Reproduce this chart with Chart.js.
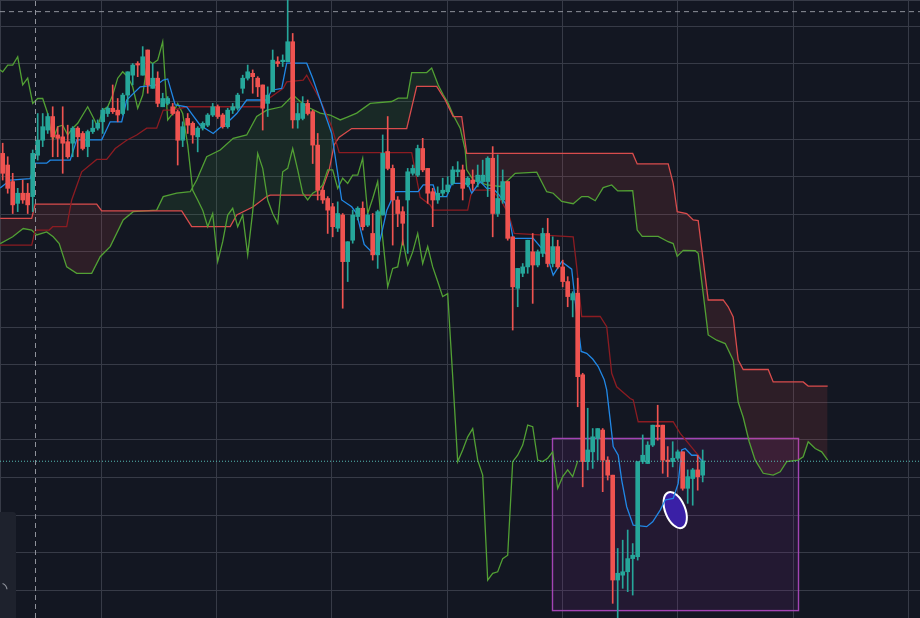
<!DOCTYPE html>
<html>
<head>
<meta charset="utf-8">
<script src="https://cdn.jsdelivr.net/npm/chart.js@4.4.1/dist/chart.umd.min.js"></script>
<style>
  html, body { margin: 0; padding: 0; background: #131722; overflow: hidden; }
  #wrap { width: 920px; height: 618px; }
</style>
</head>
<body>
<div id="wrap"><canvas id="ichimokuChart" width="920" height="618"></canvas></div>
<script>
// candles, one per index 0..140
const open = [2162,2131,2087,2029,2056,2056,2047,2157,2197,2224,2260,2211,2206,2193,2189,2229,2215,2180,2220,2229,
  2246,2268,2282,2277,2268,2317,2370,2401,2370,2437,2335,2362,2286,2295,2286,2273,2197,2255,2242,2206,
  2229,2237,2264,2286,2264,2233,2277,2282,2335,2362,2375,2362,2344,2295,2326,2406,2406,2406,2459,2251,
  2255,2295,2273,2184,2064,2042,2020,1963,1998,1874,1931,1994,2016,1971,1949,1892,1998,2167,2122,2038,
  2007,2038,2109,2104,2175,2122,2060,2038,2056,2060,2082,2113,2118,2078,2091,2087,2087,2087,2149,2002,
  2038,2087,1940,1803,1843,1860,1900,1865,1896,1949,1869,1914,1860,1821,1772,1790,1573,1342,1368,1404,
  1426,1346,1306,1027,1040,1049,1084,1089,1342,1337,1386,1439,1439,1346,1342,1351,1368,1271,1297,1320,1306];
const high = [2189,2153,2109,2069,2091,2082,2171,2268,2268,2268,2286,2233,2286,2237,2233,2233,2220,2224,2251,2251,
  2282,2286,2344,2308,2322,2379,2401,2406,2446,2437,2401,2379,2322,2313,2295,2277,2246,2268,2246,2233,
  2246,2268,2295,2291,2268,2282,2295,2322,2370,2397,2384,2366,2344,2339,2437,2419,2424,2580,2481,2295,
  2313,2304,2277,2215,2073,2047,2029,2033,2002,1927,2011,2020,2033,2002,2002,2011,2211,2260,2131,2047,
  2020,2122,2131,2184,2202,2122,2069,2073,2096,2100,2127,2140,2131,2100,2118,2131,2144,2153,2180,2158,
  2118,2087,1940,1856,1869,1931,1949,1905,1963,1989,1940,1931,1878,1834,1794,1830,1577,1484,1430,1430,
  1430,1355,1306,1111,1133,1160,1124,1342,1413,1395,1439,1492,1439,1382,1395,1373,1368,1320,1324,1359,1373];
const low = [2091,2056,2002,2007,2029,2002,2007,2144,2180,2215,2153,2153,2109,2149,2153,2153,2171,2153,2215,2224,
  2215,2260,2268,2246,2264,2277,2344,2366,2370,2322,2335,2286,2286,2291,2264,2131,2180,2215,2189,2166,
  2224,2233,2260,2255,2229,2229,2268,2277,2322,2357,2322,2313,2224,2260,2326,2393,2393,2406,2229,2229,
  2251,2264,2135,2038,2029,1949,1940,1954,1750,1821,1923,1985,1958,1967,1878,1856,1998,2118,1918,1967,
  1918,1896,2104,2100,2113,2029,1967,2029,2047,2056,2078,2100,2038,2073,2064,2073,2082,2047,1940,1994,
  2029,1931,1692,1754,1834,1843,1763,1860,1887,1860,1860,1856,1807,1754,1727,1488,1275,1320,1324,1346,
  1262,1293,965,920,1005,996,987,1080,1337,1337,1382,1399,1311,1302,1328,1346,1266,1231,1226,1266,1288];
const close = [2109,2069,2025,2056,2038,2025,2162,2197,2233,2260,2206,2202,2189,2153,2229,2206,2175,2220,2229,2242,
  2277,2282,2273,2264,2317,2379,2397,2397,2419,2344,2362,2295,2308,2308,2268,2197,2233,2237,2211,2229,
  2242,2264,2286,2260,2233,2277,2286,2317,2362,2379,2366,2339,2282,2317,2410,2401,2410,2459,2251,2268,
  2295,2268,2184,2064,2038,2011,1967,2002,1874,1927,1998,2016,1967,1998,1892,2007,2162,2122,2038,2002,
  1976,2113,2122,2175,2118,2056,2038,2056,2064,2078,2118,2118,2069,2096,2082,2104,2104,2149,2002,2042,
  2087,1936,1807,1856,1860,1931,1865,1900,1949,1869,1914,1860,1821,1781,1789,1568,1342,1373,1408,1430,
  1346,1306,1027,1045,1049,1084,1093,1342,1359,1386,1439,1435,1346,1342,1351,1368,1271,1302,1320,1302,1344];

// lagging span, starting at index -1
const chikouStart = -1;
const chikou = [2388,2379,2397,2397,2419,2344,2362,2295,2308,2308,2268,2197,2233,2237,2211,2229,2242,2264,2286,2260,2233,
  2277,2286,2317,2362,2379,2366,2339,2282,2317,2410,2401,2410,2459,2251,2268,2295,2268,2184,2064,2038,
  2011,1967,2002,1874,1927,1998,2016,1967,1998,1892,2007,2162,2122,2038,2002,1976,2113,2122,2175,2118,
  2056,2038,2056,2064,2078,2118,2118,2069,2096,2082,2104,2104,2149,2002,2042,2087,1936,1807,1856,1860,
  1931,1865,1900,1949,1869,1914,1860,1821,1781,1789,1568,1342,1373,1408,1430,1346,1306,1027,1045,1049,
  1084,1093,1342,1359,1386,1439,1435,1346,1342,1351,1368,1271,1302,1320,1302,1344];

// conversion line [index, price]
const tenkan = [[-0.5,2070],[1.5,2091],[5.5,2095],[6.5,2136],[8.8,2136],[9.5,2144],[13.5,2144],[14.8,2198],[19.8,2198],
  [21.5,2246],[23.8,2246],[24.8,2304],[27.5,2339],[30.8,2344],[32.1,2357],[33,2360],[34.5,2291],[36.8,2286],[38,2264],
  [39.5,2237],[42.1,2215],[43.3,2229],[44.8,2242],[46.8,2268],[48.8,2304],[52.8,2304],[53.8,2330],[55.8,2335],
  [56.8,2402],[60.8,2402],[62,2362],[63.5,2304],[65.8,2215],[67.8,2038],[69.8,2020],[70.8,2002],[72.3,1920],
  [73.8,1900],[74.8,1896],[75.8,1950],[76.8,2010],[78.5,2060],[83.1,2060],[84.1,2078],[86.1,2078],[86.8,2047],
  [88.8,2047],[89.8,2082],[93,2082],[93.8,2056],[95.5,2087],[96.8,2069],[98,2069],[99,2056],[100.5,2030],
  [101.5,1976],[102.1,1936],[106.1,1936],[107.5,1914],[108.8,1892],[110.1,1838],[111.8,1874],[113.8,1854],
  [114.7,1746],[115.7,1635],[116.8,1630],[118,1615],[119.1,1595],[120.3,1560],[120.8,1533],[121.5,1453],
  [122.1,1382],[123.1,1359],[123.8,1293],[124.8,1222],[126.1,1173],[128.8,1169],[130,1182],[131.5,1213],
  [132.5,1240],[134.1,1244],[135.1,1284],[135.8,1373],[136.5,1377],[137.8,1359],[138.8,1359],[140,1342]];

// base line [index, price]
const kijun = [[-0.5,1918],[5.8,1918],[6.5,1958],[9.3,1958],[10,1967],[12.8,1967],[13.8,2038],[15.8,2113],[18.8,2146],
  [20.8,2146],[22.5,2175],[24.8,2197],[26.8,2211],[28.8,2229],[30.8,2229],[32.1,2277],[34.1,2277],[36.8,2286],
  [51.5,2286],[52.8,2304],[56.1,2335],[56.8,2352],[60.1,2357],[60.8,2370],[63.5,2304],[65.8,2233],[67.3,2164],
  [81.8,2164],[83.5,2045],[85.5,2025],[86.1,2011],[93,2011],[93.6,2050],[94.1,2064],[97.8,2064],[99.5,2040],
  [101.2,2000],[102.3,1949],[114.1,1940],[114.8,1860],[115.8,1728],[119.5,1728],[120.8,1701],[121.8,1577],
  [122.8,1541],[125.5,1510],[126.1,1506],[127.1,1448],[134.1,1448],[135.5,1417],[138.8,1364],[140,1344]];

// leading span A [index, price]
const senkouA = [[-0.5,1922],[2,1940],[4.1,1962],[5.8,1958],[6.8,1945],[8.8,1953],[10.1,1940],[11.3,1922],[12.8,1860],
  [14.8,1843],[17.8,1843],[19.5,1887],[21.5,1914],[24.1,1985],[26.1,2007],[30.8,2011],[32.1,2047],[34.8,2056],
  [37.5,2060],[38.8,2091],[40.8,2153],[43.5,2171],[46.1,2202],[48.8,2211],[50.8,2260],[52.8,2277],[55.8,2286],
  [58.1,2317],[59.5,2300],[61.5,2282],[63.5,2269],[65.5,2264],[67.5,2251],[68.8,2258],[70.8,2269],[73.5,2295],
  [77.8,2300],[79.1,2309],[80.9,2309],[81.8,2377],[84.8,2377],[85.8,2389],[87.1,2344],[88.1,2318],[89.1,2295],
  [90.1,2264],[91.5,2229],[92.5,2171],[92.8,2118],[94.1,2091],[96.8,2078],[99.5,2074],[101.1,2091],[102.5,2109],
  [106.8,2112],[108.8,2060],[110.1,2056],[111.8,2034],[114.1,2028],[115.8,2047],[117.1,2047],[118.5,2036],
  [120.1,2071],[121.8,2078],[123,2062],[126,2063],[126.9,1958],[127.9,1941],[131.1,1941],[133.1,1927],[134.1,1922],
  [134.9,1888],[136.1,1904],[138.5,1903],[139.1,1896],[140.1,1789],[141.1,1679],[142.8,1665],[144.5,1656],
  [146.1,1612],[147.1,1500],[148.1,1460],[149.3,1395],[150.5,1346],[152.1,1311],[154.1,1306],[155.5,1315],
  [156.8,1342],[159.1,1346],[160.1,1355],[161.1,1395],[162.5,1377],[163.8,1368],[165,1346]];

// leading span B [index, price]
const senkouB = [[-0.5,1989],[5.8,1989],[6.5,2027],[18.8,2027],[19.8,2009],[35.8,2009],[37.8,1967],[45.5,1967],
  [46.8,1998],[50.1,2020],[52.8,2047],[53.5,2051],[63.5,2051],[65.3,2118],[66.3,2185],[67.3,2205],[69.8,2228],
  [80.8,2228],[82.8,2340],[86.8,2340],[88.5,2304],[90.1,2260],[91.8,2260],[92.8,2162],[126,2162],[126.9,2134],
  [133.1,2134],[134.1,2082],[134.9,2007],[136.8,2002],[138.1,1985],[139.1,1983],[141.1,1772],[144.1,1772],
  [145.1,1754],[146.1,1727],[147.1,1612],[148.1,1587],[153.1,1587],[154.1,1554],[160.1,1554],[161.1,1543],[165,1543]];

// view, grid, markers
const xMin = -0.54, xMax = 183.46;
const yMin = 926, yMax = 2570;
const gridX = [-0.54, 19.72, 42.78, 65.84, 88.9, 111.96, 135.02, 158.08, 181.14];
const gridY = [1000, 1100, 1200, 1300, 1400, 1500, 1600, 1700, 1800, 1900, 2000, 2100, 2200, 2300, 2400, 2500, 2570];
const lastPrice = 1343;
const crossX = 6.56, crossY = 2539;
const boxX = [109.86, 159.06], boxY = [947, 1405];
const ellipseAt = [134.5, 1213];

const upColor = '#26a69a', downColor = '#ef5350';
const candleColors = close.map((c, i) => c >= open[i] ? upColor : downColor);
const pts = arr => arr.map(p => ({ x: p[0], y: p[1] }));

const lineStyle = (color, width) => ({
  type: 'line', borderColor: color, borderWidth: width, pointRadius: 0, tension: 0, fill: false
});

const datasets = [
  { label: 'wicks', data: high.map((h, i) => ({ x: i, y: [low[i], h] })), backgroundColor: candleColors,
    barThickness: 1, grouped: false, order: 2 },
  { label: 'bodies', data: open.map((o, i) => ({ x: i, y: [o, close[i]] })), backgroundColor: candleColors,
    barThickness: 4, minBarLength: 1, grouped: false, order: 1 },
  { ...lineStyle('#d94c4c', 1.3), label: 'Leading Span B', data: pts(senkouB), order: 10 },
  { ...lineStyle('#52a034', 1.3), label: 'Leading Span A', data: pts(senkouA), order: 10,
    fill: { target: 2, above: 'rgba(67,160,71,0.13)', below: 'rgba(239,83,80,0.12)' } },
  { ...lineStyle('#52a034', 1.3), label: 'Lagging Span', data: chikou.map((v, i) => ({ x: i + chikouStart, y: v })), order: 9 },
  { ...lineStyle('#8c1c22', 1.3), label: 'Base Line', data: pts(kijun), order: 8 },
  { ...lineStyle('#2188e6', 1.3), label: 'Conversion Line', data: pts(tenkan), order: 7 },
  { ...lineStyle('#56bdb5', 1), borderDash: [1, 2], label: 'last',
    data: [{ x: xMin, y: lastPrice }, { x: xMax, y: lastPrice }], order: 0 },
  { ...lineStyle('#8f929b', 1), borderDash: [5, 4], label: 'crossH',
    data: [{ x: xMin, y: crossY }, { x: xMax, y: crossY }], order: 0 },
  { ...lineStyle('#8f929b', 1), borderDash: [5, 4], label: 'crossV',
    data: [{ x: crossX, y: yMin }, { x: crossX, y: yMax }], order: 0 }
];

const drawings = {
  id: 'drawings',
  beforeDatasetsDraw(chart) {
    const { ctx, scales: { x, y } } = chart;
    ctx.save();
    const x0 = x.getPixelForValue(boxX[0]), x1 = x.getPixelForValue(boxX[1]);
    const y0 = y.getPixelForValue(boxY[1]), y1 = y.getPixelForValue(boxY[0]);
    ctx.fillStyle = 'rgba(156,39,176,0.12)';
    ctx.fillRect(x0, y0, x1 - x0, y1 - y0);
    ctx.strokeStyle = 'rgba(171,71,188,0.95)';
    ctx.lineWidth = 1.4;
    ctx.strokeRect(x0 + 0.5, y0 + 0.5, x1 - x0, y1 - y0);
    ctx.beginPath();
    ctx.ellipse(x.getPixelForValue(ellipseAt[0]), y.getPixelForValue(ellipseAt[1]), 10, 19, -0.38, 0, Math.PI * 2);
    ctx.fillStyle = '#3a20a6';
    ctx.fill();
    ctx.strokeStyle = '#ffffff';
    ctx.lineWidth = 2;
    ctx.stroke();
    ctx.restore();
  },
  afterDraw(chart) {
    const { ctx } = chart;
    ctx.save();
    ctx.fillStyle = '#1e222d';
    ctx.beginPath();
    ctx.roundRect(-4, 512, 20, 110, 3);
    ctx.fill();
    ctx.strokeStyle = '#8f929b';
    ctx.lineWidth = 1.2;
    ctx.beginPath();
    ctx.arc(0, 590, 7, -1.2, -0.1);
    ctx.stroke();
    ctx.restore();
  }
};

const ctx = document.getElementById('ichimokuChart').getContext('2d');
const chart = new Chart(ctx, {
  type: 'bar',
  data: { datasets: datasets },
  options: {
    responsive: false,
    animation: false,
    layout: { padding: 0 },
    plugins: { legend: { display: false }, tooltip: { enabled: false } },
    scales: {
      x: {
        type: 'linear', min: xMin, max: xMax, offset: false,
        afterBuildTicks: s => { s.ticks = gridX.map(v => ({ value: v })); },
        ticks: { display: false },
        grid: { color: '#373b47', drawTicks: false, offset: false },
        border: { display: false }
      },
      y: {
        type: 'linear', min: yMin, max: yMax,
        afterBuildTicks: s => { s.ticks = gridY.map(v => ({ value: v })); },
        ticks: { display: false },
        grid: { color: '#373b47', drawTicks: false },
        border: { display: false }
      }
    }
  },
  plugins: [drawings]
});
</script>
</body>
</html>
